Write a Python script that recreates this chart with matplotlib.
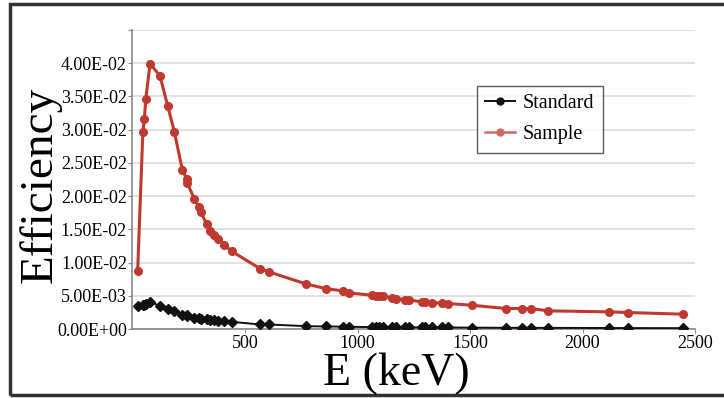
import matplotlib.pyplot as plt
from matplotlib.patches import Rectangle
from matplotlib.ticker import FuncFormatter

energy = [23, 46, 53, 59, 78, 122, 156, 186, 221, 241, 244, 275, 296, 303, 330,
          344, 364, 381, 408, 441, 567, 607, 771, 858, 934, 964, 1063, 1082,
          1097, 1115, 1152, 1171, 1211, 1230, 1285, 1300, 1330, 1374, 1404,
          1507, 1660, 1732, 1770, 1848, 2118, 2204, 2445]

sample = [0.0088, 0.0296, 0.0316, 0.0346, 0.0399, 0.0381, 0.0336, 0.0297,
          0.0240, 0.0226, 0.0219, 0.0196, 0.0183, 0.0176, 0.0158, 0.0148,
          0.0141, 0.0136, 0.0127, 0.0117, 0.0091, 0.0086, 0.0068, 0.0061,
          0.00575, 0.00545, 0.0051, 0.0050, 0.0050, 0.00495, 0.0047, 0.0046,
          0.00445, 0.0044, 0.0041, 0.0041, 0.0040, 0.0039, 0.00385, 0.0036,
          0.0031, 0.0031, 0.0031, 0.00275, 0.0026, 0.0025, 0.00225]

standard = [0.00345, 0.0036, 0.0037, 0.00375, 0.0041, 0.0035, 0.0031, 0.00275,
            0.0022, 0.0021, 0.0020, 0.00175, 0.0017, 0.0016, 0.0015, 0.00145,
            0.0014, 0.00125, 0.0012, 0.0011, 0.0007, 0.0007, 0.00045, 0.0004,
            0.00038, 0.00036, 0.0003, 0.0003, 0.0003, 0.0003, 0.00028, 0.00028,
            0.00027, 0.00027, 0.00026, 0.00026, 0.00025, 0.00025, 0.00025,
            0.00023, 0.0002, 0.0002, 0.0002, 0.00019, 0.00017, 0.00016, 0.00015]

x_ticks = [500, 1000, 1500, 2000, 2500]
y_ticks = [0.0, 0.005, 0.01, 0.015, 0.02, 0.025, 0.03, 0.035, 0.04, 0.045]

plt.rcParams['font.family'] = ['Liberation Serif', 'DejaVu Serif']

fig = plt.figure(figsize=(7.24, 3.98), dpi=100)
ax = fig.add_axes([0.183, 0.173, 0.777, 0.752])

ax.plot(energy, standard, color='#111111', lw=1.4, marker='D', ms=5.5,
        zorder=3)
ax.plot(energy, sample, color='#c0392f', lw=2.2, marker='o', ms=5.5,
        zorder=3)

# legend handles look slightly different from the plotted lines
h1, = ax.plot([], [], color='#111111', lw=1.4, marker='o', ms=5)
h2, = ax.plot([], [], color='#cc6a63', lw=1.8, marker='o', ms=5)
leg = ax.legend([h1, h2], ['Standard', 'Sample'], loc='upper left',
                bbox_to_anchor=(0.612, 0.812), fontsize=14.5, frameon=True,
                fancybox=False, edgecolor='#333333', handlelength=1.5,
                borderpad=0.4, labelspacing=0.6, handletextpad=0.4,
                borderaxespad=0)
leg.get_frame().set_linewidth(1.0)

ax.set_xlim(0, 2500)
ax.set_ylim(0, 0.045)
ax.set_xticks(x_ticks)
ax.set_yticks(y_ticks)
ax.yaxis.set_major_formatter(
    FuncFormatter(lambda v, p: '' if v > 0.0425 else '{:.2E}'.format(v)))
ax.tick_params(labelsize=13, length=3, color='#888888', pad=1)
ax.grid(axis='y', color='#dcdcdc', lw=1.2)
ax.set_axisbelow(True)
for s in ['top', 'right']:
    ax.spines[s].set_visible(False)
for s in ['left', 'bottom']:
    ax.spines[s].set_color('#888888')
    ax.spines[s].set_linewidth(1.2)

fig.text(0.056, 0.535, 'Efficiency', rotation=90, fontsize=34,
         ha='center', va='center')
fig.text(0.547, 0.062, 'E (keV)', fontsize=33, ha='center', va='center')

fig.patches.append(Rectangle((10 / 724, 3 / 398), 1.2, 391 / 398,
                             transform=fig.transFigure, fill=False,
                             edgecolor='#333333', lw=2.5))

fig.savefig('out.png', dpi=100)
